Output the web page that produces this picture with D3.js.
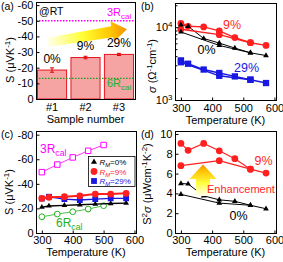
<!DOCTYPE html>
<html>
<head>
<meta charset="utf-8">
<script src="https://cdn.jsdelivr.net/npm/d3@7"></script>
<style>
  html, body { margin: 0; padding: 0; background: #fff; }
  svg { display: block; font-family: Arial, "Liberation Sans", sans-serif; }
</style>
</head>
<body>
<svg id="chart" width="283" height="262"></svg>
<script>
// (a) Seebeck coefficient at room temperature
const samples = ['#1', '#2', '#3'];
const sampleS = [-18.5, -26.5, -28.5];
const sampleErr = [1.4, 0.8, 0.7];
const sampleRm = ['0%', '9%', '29%'];
const sRt3Rcal = -50;
const sRt6Rcal = -13.2;

// measurement temperatures (first run has every point, second run only a few)
const temps = [300, 323, 373, 423, 473, 523, 573];
const tempsRun2 = [300, 423, 523];

// (b) conductivity, ohm^-1 cm^-1
const sigma0 = [10800, 10300, 7000, 6050, 5170, 4450, 4080];
const sigma0Run2 = [8600, 5620, 4450];
const sigma9 = [11250, 10300, 10100, 8900, 7200, 6120, 5620];
const sigma9Run2 = [9380, 7900, 6120];
const sigma29 = [3500, 3150, 2620, 2350, 2110, 1900, 1710];
const sigma29Run2 = [3300, 2150, 1900];

// (c) Seebeck vs temperature
const calcT = [300, 350, 400, 450, 500];
const s3Rcal = [-49.5, -55.7, -61.5, -66.9, -71.6];
const s6Rcal = [-13.2, -15.4, -17.3, -19.5, -22.2];
const sT0 = [-21, -22, -22.5, -23, -23.5, -24, -24.3];
const sT9 = [-28.2, -29, -29.5, -30.3, -31.7, -31.7, -32.3];
const sT29 = [-28, -29.5, -27.6, -26.8, -27.6, -28.2, -28.2];

// (d) power factor
const pf0 = [5.0, 4.95, 3.75, 3.35, 3.2, 2.8, 2.45];
const pf0Run2 = [3.9, 3.02, 2.8];
const pf9 = [9.05, 8.35, 9.05, 8.3, 7.5, 6.45, 6.05];
const pf9Run2 = [6.8, 7.3, 6.45];

const RED = '#ff1f1f';
const BLUE = '#1818e0';
const MAG = '#ff00ff';
const GRN = '#22b022';
const FS = 11;

const svg = d3.select('#chart');

// gradients for the two fat arrows
const defs = svg.append('defs');
const gradA = defs.append('linearGradient').attr('id', 'gradA')
  .attr('x1', 0).attr('x2', 1).attr('y1', 0).attr('y2', 0);
[[0, '#fffff2'], [0.45, '#ffff33'], [0.8, '#ffc400'], [1, '#f59000']].forEach(([o, c]) =>
  gradA.append('stop').attr('offset', o).attr('stop-color', c));
const gradD = defs.append('linearGradient').attr('id', 'gradD')
  .attr('x1', 0).attr('x2', 0).attr('y1', 1).attr('y2', 0);
[[0, '#fffff0'], [0.4, '#ffff40'], [0.8, '#ffc000'], [1, '#f59000']].forEach(([o, c]) =>
  gradD.append('stop').attr('offset', o).attr('stop-color', c));

// text with sub/superscripts, shifted with dy (px of the base size)
function rich(text, parts, fs) {
  let cur = 0;
  parts.forEach((p) => {
    const [str, kind] = Array.isArray(p) ? p : [p, null];
    const t = text.append('tspan').text(str);
    let target = 0;
    if (kind === 'sup') target = -0.38 * fs;
    if (kind === 'sub' || kind === 'itsub') target = 0.28 * fs;
    if (target !== cur) t.attr('dy', target - cur);
    cur = target;
    if (kind === 'sup' || kind === 'sub' || kind === 'itsub') t.attr('font-size', fs * 0.72);
    if (kind === 'it' || kind === 'itsub') t.attr('font-style', 'italic');
  });
  return text;
}

function label(x, y, parts, opts = {}) {
  const fs = opts.size || FS;
  const t = svg.append('text')
    .attr('x', x).attr('y', y)
    .attr('font-size', fs)
    .attr('fill', opts.fill || '#000')
    .attr('text-anchor', opts.anchor || 'start');
  return rich(t, parts, fs);
}

function yTitle(x, y, parts) {
  const t = svg.append('text')
    .attr('transform', `translate(${x},${y}) rotate(-90)`)
    .attr('text-anchor', 'middle')
    .attr('dy', '0.35em')
    .attr('font-size', FS);
  return rich(t, parts, FS);
}

function frame(x0, x1, y0, y1) {
  svg.append('rect')
    .attr('x', x0 + 0.5).attr('y', y0 + 0.5)
    .attr('width', x1 - x0).attr('height', y1 - y0)
    .attr('fill', 'none').attr('stroke', '#000').attr('stroke-width', 1);
}

function styleAxis(a) {
  a.select('.domain').remove();
  a.attr('font-family', null).attr('font-size', FS);
}

function leftAxis(scale, x, ticks, fmt, size = -3) {
  return svg.append('g').attr('transform', `translate(${x + 0.5},0)`)
    .call(d3.axisLeft(scale).tickValues(ticks).tickSize(size).tickPadding(3).tickFormat(fmt))
    .call(styleAxis);
}

function bottomAxis(scale, y, ticks, pad = 4) {
  return svg.append('g').attr('transform', `translate(0,${y + 0.5})`)
    .call(d3.axisBottom(scale).tickValues(ticks).tickSize(-3).tickPadding(pad).tickFormat(d3.format('d')))
    .call(styleAxis);
}

const negFmt = (d) => String(d);

function series(xs, ys, xScale, yScale, color, width) {
  const line = d3.line().x((d) => xScale(d[0])).y((d) => yScale(d[1]));
  svg.append('path')
    .datum(d3.zip(xs, ys))
    .attr('d', line)
    .attr('fill', 'none')
    .attr('stroke', color)
    .attr('stroke-width', width);
}

function markers(xs, ys, xScale, yScale, type, size, fill, stroke) {
  svg.append('g').selectAll('path')
    .data(d3.zip(xs, ys))
    .join('path')
    .attr('transform', (d) => `translate(${xScale(d[0])},${yScale(d[1])})`)
    .attr('d', d3.symbol().type(type).size(size))
    .attr('fill', fill)
    .attr('stroke', stroke || 'none')
    .attr('stroke-width', 1);
}

// ---------- (a) ----------
const ax = d3.scaleBand().domain(samples).range([36, 135]).paddingInner(0.1).paddingOuter(0.03);
const ay = d3.scaleLinear().domain([0, -62]).range([99, 2]);

svg.append('g').selectAll('rect')
  .data(d3.zip(samples, sampleS))
  .join('rect')
  .attr('x', (d) => ax(d[0]) + 0.5)
  .attr('y', (d) => ay(d[1]))
  .attr('width', ax.bandwidth() - 1)
  .attr('height', (d) => ay(0) - ay(d[1]))
  .attr('fill', '#f5a3a3')
  .attr('stroke', '#e8141c')
  .attr('stroke-width', 1);

const errG = svg.append('g').attr('stroke', '#e00000').attr('stroke-width', 1);
samples.forEach((s, i) => {
  const cx = ax(s) + ax.bandwidth() / 2;
  const lo = ay(sampleS[i] + sampleErr[i]);
  const hi = ay(sampleS[i] - sampleErr[i]);
  errG.append('line').attr('x1', cx).attr('x2', cx).attr('y1', lo).attr('y2', hi);
  errG.append('line').attr('x1', cx - 2).attr('x2', cx + 2).attr('y1', lo).attr('y2', lo);
  errG.append('line').attr('x1', cx - 2).attr('x2', cx + 2).attr('y1', hi).attr('y2', hi);
});

svg.append('line')
  .attr('x1', 36).attr('x2', 135).attr('y1', ay(sRt3Rcal)).attr('y2', ay(sRt3Rcal))
  .attr('stroke', MAG).attr('stroke-width', 1.3).attr('stroke-dasharray', '1.5,1.5');
svg.append('line')
  .attr('x1', 36).attr('x2', 135).attr('y1', ay(sRt6Rcal)).attr('y2', ay(sRt6Rcal))
  .attr('stroke', '#1c9c1c').attr('stroke-width', 1.3).attr('stroke-dasharray', '1.5,1.5');

// fat arrow, pale to orange
const arrowA = [[0, -4.5], [66, -5.5], [66, -10.5], [81, 0], [66, 10.5], [66, 5.5], [0, 4.5]];
svg.append('path')
  .attr('transform', 'translate(47,42.5) rotate(-9.4)')
  .attr('d', d3.line()(arrowA) + 'Z')
  .attr('fill', 'url(#gradA)');

samples.forEach((s, i) => {
  label(ax(s) + ax.bandwidth() / 2, ay(sampleS[i]) - 7.5, [sampleRm[i]], { anchor: 'middle', size: 12 });
});

frame(36, 135, 2, 99);
leftAxis(ay, 36, d3.range(0, -61, -10), negFmt);
svg.append('g').attr('transform', 'translate(0,99.5)')
  .call(d3.axisBottom(ax).tickSize(0).tickPadding(4))
  .call(styleAxis);

label(39, 15, ['@RT'], { size: 10.5 });
label(107, 16, ['3R', ['cal', 'sub']], { fill: MAG });
label(107, 87, ['6R', ['cal', 'sub']], { fill: GRN });
label(85.5, 123, ['Sample number'], { anchor: 'middle' });
yTitle(10, 60, ['S (\u03bcVK', ['-1', 'sup'], ')']);
label(1, 10, ['(a)'], { size: 10.5 });

// ---------- (b) ----------
const bx = d3.scaleLinear().domain([281, 605]).range([175, 276]);
const by = d3.scaleLog().domain([1000, 21500]).range([100, 3]);

series(temps, sigma0, bx, by, '#000', 1);
series(tempsRun2, sigma0Run2, bx, by, '#000', 1);
series(temps, sigma9, bx, by, RED, 1.4);
series(tempsRun2, sigma9Run2, bx, by, RED, 1.4);
series(temps, sigma29, bx, by, BLUE, 1.4);
series(tempsRun2, sigma29Run2, bx, by, BLUE, 1.4);
markers(temps, sigma9, bx, by, d3.symbolCircle, 36, RED);
markers(tempsRun2, sigma9Run2, bx, by, d3.symbolCircle, 36, RED);
markers(temps, sigma0, bx, by, d3.symbolTriangle, 14, '#000');
markers(tempsRun2, sigma0Run2, bx, by, d3.symbolTriangle, 14, '#000');
markers(temps, sigma29, bx, by, d3.symbolSquare, 40, BLUE);
markers(tempsRun2, sigma29Run2, bx, by, d3.symbolSquare, 40, BLUE);

frame(175, 276, 3, 100);
const bAxis = leftAxis(by, 175, [1000, 10000], () => '');
bAxis.selectAll('.tick text').each(function (d) {
  rich(d3.select(this), ['10', [String(Math.round(Math.log10(d))), 'sup']], FS);
});
leftAxis(by, 175, [2000, 3000, 4000, 5000, 6000, 7000, 8000, 9000, 20000], () => '', -2);
bottomAxis(bx, 100, [300, 400, 500, 600]);

label(232, 29, ['9%'], { fill: RED, anchor: 'middle', size: 12.5 });
label(206.5, 54, ['0%'], { anchor: 'middle', size: 12.5 });
label(246.5, 72, ['29%'], { fill: BLUE, anchor: 'middle', size: 12.5 });
label(225.5, 124, ['Temperature (K)'], { anchor: 'middle' });
yTitle(152, 66, [['\u03c3', 'it'], ' (\u03a9', ['-1', 'sup'], 'cm', ['-1', 'sup'], ')']);
label(141, 10, ['(b)'], { size: 10.5 });

// ---------- (c) ----------
const cxs = d3.scaleLinear().domain([281, 605]).range([36, 136]);
const cys = d3.scaleLinear().domain([0, -83]).range([233, 131]);

series(calcT, s3Rcal, cxs, cys, MAG, 0.8);
markers(calcT, s3Rcal, cxs, cys, d3.symbolSquare, 30, '#fff', MAG);
series(calcT, s6Rcal, cxs, cys, GRN, 0.8);
markers(calcT, s6Rcal, cxs, cys, d3.symbolCircle, 26, '#fff', GRN);
series(temps, sT0, cxs, cys, '#000', 1.4);
markers(temps, sT0, cxs, cys, d3.symbolTriangle, 14, '#000');
series(temps, sT29, cxs, cys, BLUE, 1.4);
markers(temps, sT29, cxs, cys, d3.symbolSquare, 34, BLUE);
series(temps, sT9, cxs, cys, RED, 2);
markers(temps, sT9, cxs, cys, d3.symbolCircle, 36, RED);

frame(36, 136, 131, 233);
leftAxis(cys, 36, d3.range(0, -81, -20), negFmt);
bottomAxis(cxs, 233, [300, 400, 500, 600], 3);

// legend box
svg.append('rect')
  .attr('x', 88.5).attr('y', 156.5).attr('width', 46.5).attr('height', 30)
  .attr('fill', '#fff').attr('stroke', '#000').attr('stroke-width', 0.8);
const legendRm = ['0%', '9%', '29%'];
const legendCol = ['#000', RED, BLUE];
const legendSym = [d3.symbolTriangle, d3.symbolCircle, d3.symbolSquare];
const legendSize = [16, 36, 34];
legendRm.forEach((r, i) => {
  const ly = 162 + i * 9.5;
  svg.append('path')
    .attr('transform', `translate(94,${ly})`)
    .attr('d', d3.symbol().type(legendSym[i]).size(legendSize[i]))
    .attr('fill', legendCol[i]);
  label(99.5, ly + 3, [['R', 'it'], ['M', 'itsub'], '=' + r], { size: 8, fill: legendCol[i] });
});

label(40, 153, ['3R', ['cal', 'sub']], { fill: MAG, size: 12 });
label(56, 227, ['6R', ['cal', 'sub']], { fill: GRN, size: 12 });
label(86, 256, ['Temperature (K)'], { anchor: 'middle' });
yTitle(9, 192, ['S (\u03bcVK', ['-1', 'sup'], ')']);
label(1, 138, ['(c)'], { size: 10.5 });

// ---------- (d) ----------
const dxs = d3.scaleLinear().domain([281, 605]).range([175, 276]);
const dys = d3.scaleLinear().domain([0, 10.3]).range([233, 131]);

series(temps, pf0, dxs, dys, '#000', 1);
series(tempsRun2, pf0Run2, dxs, dys, '#000', 1);
markers(temps, pf0, dxs, dys, d3.symbolTriangle, 14, '#000');
markers(tempsRun2, pf0Run2, dxs, dys, d3.symbolTriangle, 14, '#000');
series(temps, pf9, dxs, dys, RED, 1.2);
series(tempsRun2, pf9Run2, dxs, dys, RED, 1.2);
markers(temps, pf9, dxs, dys, d3.symbolCircle, 36, RED);
markers(tempsRun2, pf9Run2, dxs, dys, d3.symbolCircle, 36, RED);

// upward arrow
const arrowD = [[-7, 0], [-7, -17], [-13.5, -17], [0, -31.5], [13.5, -17], [7, -17], [7, 0]];
svg.append('path')
  .attr('transform', 'translate(203,196)')
  .attr('d', d3.line()(arrowD) + 'Z')
  .attr('fill', 'url(#gradD)');

frame(175, 276, 131, 233);
leftAxis(dys, 175, d3.range(0, 11, 2), d3.format('d'));
bottomAxis(dxs, 233, [300, 400, 500, 600], 3);

label(263.5, 165, ['9%'], { fill: RED, anchor: 'middle', size: 12.5 });
label(207, 193, ['Enhancement'], { fill: RED });
label(238.5, 219.5, ['0%'], { anchor: 'middle', size: 12.5 });
label(225.5, 256, ['Temperature (K)'], { anchor: 'middle' });
yTitle(147, 184, ['S', ['2', 'sup'], ['\u03c3', 'it'], ' (\u03bcWcm', ['-1', 'sup'], 'K', ['-2', 'sup'], ')']);
label(141, 138, ['(d)'], { size: 10.5 });
</script>
</body>
</html>
